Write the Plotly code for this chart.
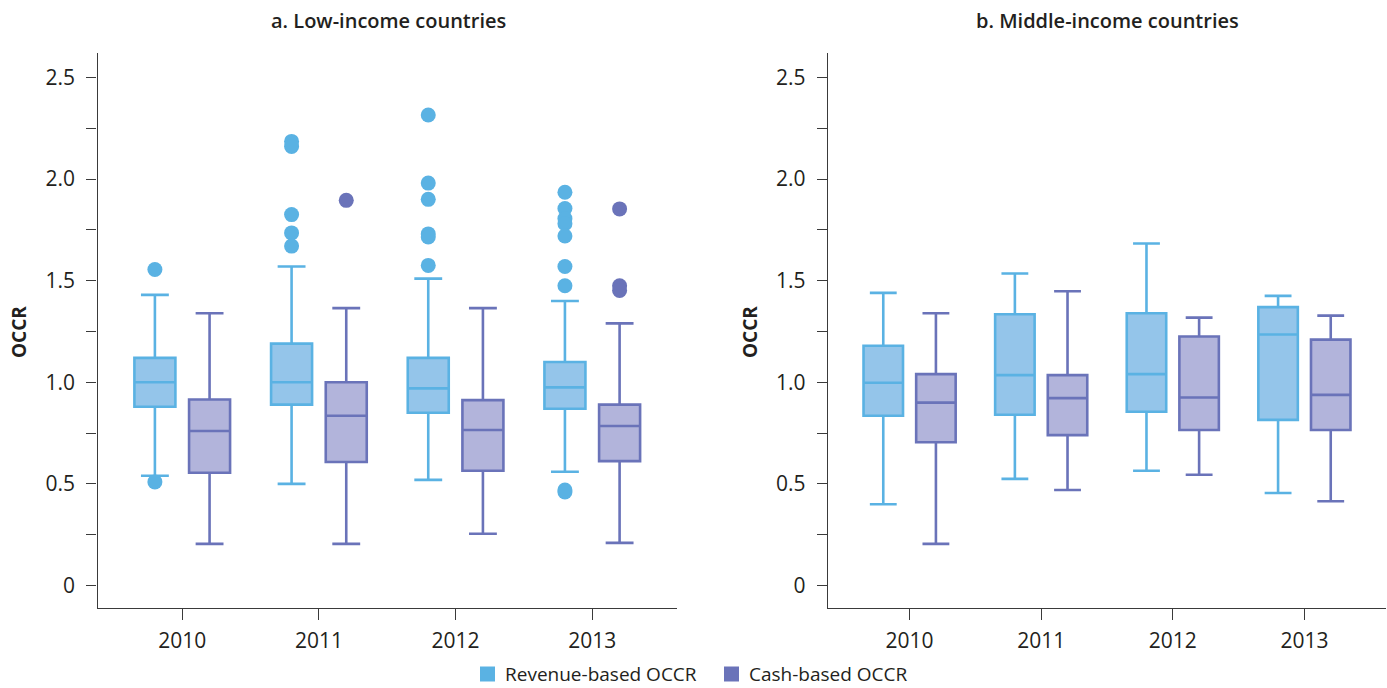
import plotly.graph_objects as go

years = ["2010", "2011", "2012", "2013"]

# a. Low-income countries: revenue-based OCCR
low_rev_lower = [0.54, 0.50, 0.52, 0.56]
low_rev_q1 = [0.88, 0.89, 0.85, 0.87]
low_rev_median = [1.00, 1.00, 0.97, 0.975]
low_rev_q3 = [1.12, 1.19, 1.12, 1.10]
low_rev_upper = [1.43, 1.57, 1.51, 1.40]
low_rev_outliers = [
    [1.555, 0.51],
    [2.185, 2.16, 1.825, 1.735, 1.67],
    [2.315, 1.98, 1.90, 1.73, 1.715, 1.575],
    [1.935, 1.855, 1.805, 1.78, 1.72, 1.57, 1.475, 0.47, 0.46],
]

# a. Low-income countries: cash-based OCCR
low_cash_lower = [0.205, 0.205, 0.255, 0.21]
low_cash_q1 = [0.555, 0.608, 0.565, 0.612]
low_cash_median = [0.76, 0.835, 0.765, 0.785]
low_cash_q3 = [0.915, 1.00, 0.912, 0.89]
low_cash_upper = [1.34, 1.365, 1.365, 1.29]
low_cash_outliers = [[], [1.895], [], [1.853, 1.475, 1.452]]

# b. Middle-income countries: revenue-based OCCR
mid_rev_lower = [0.40, 0.525, 0.565, 0.455]
mid_rev_q1 = [0.835, 0.84, 0.855, 0.815]
mid_rev_median = [0.998, 1.035, 1.04, 1.235]
mid_rev_q3 = [1.18, 1.335, 1.34, 1.37]
mid_rev_upper = [1.44, 1.535, 1.683, 1.425]

# b. Middle-income countries: cash-based OCCR
mid_cash_lower = [0.205, 0.47, 0.545, 0.415]
mid_cash_q1 = [0.705, 0.74, 0.765, 0.765]
mid_cash_median = [0.90, 0.922, 0.925, 0.938]
mid_cash_q3 = [1.04, 1.035, 1.225, 1.21]
mid_cash_upper = [1.34, 1.448, 1.318, 1.328]

series_names = ["Revenue-based OCCR", "Cash-based OCCR"]

y_tick_vals = [0, 0.5, 1.0, 1.5, 2.0, 2.5]
y_tick_text = ["0", "0.5", "1.0", "1.5", "2.0", "2.5"]
y_minor_vals = [0.25, 0.75, 1.25, 1.75, 2.25]

REV_LINE, REV_FILL = "#5AB2E3", "#94C5EA"
CASH_LINE, CASH_FILL = "#6A73B9", "#B2B4DB"
AXIS = "#3a3a3a"
TEXT = "#231F20"
FONT = "Open Sans"

W, H = 1387, 688
OFFSET = 0.2
BOX_W = 0.30

fig = go.Figure()


def add_series(xref, yref, lower, q1, med, q3, upper, outliers, side, line, fill):
    xs = [i + side * OFFSET for i in range(len(years))]
    fig.add_trace(go.Box(
        x=xs, q1=q1, median=med, q3=q3, lowerfence=lower, upperfence=upper,
        width=BOX_W, whiskerwidth=0.68, boxpoints=False,
        line=dict(color=line, width=2.6), fillcolor=fill,
        xaxis=xref, yaxis=yref, showlegend=False, hoverinfo="skip",
    ))
    ox, oy = [], []
    for x, vals in zip(xs, outliers):
        for v in vals:
            ox.append(x)
            oy.append(v)
    if ox:
        fig.add_trace(go.Scatter(
            x=ox, y=oy, mode="markers",
            marker=dict(color=line, size=15, line=dict(width=0)),
            xaxis=xref, yaxis=yref, showlegend=False, hoverinfo="skip",
        ))


add_series("x", "y", low_rev_lower, low_rev_q1, low_rev_median, low_rev_q3,
           low_rev_upper, low_rev_outliers, -1, REV_LINE, REV_FILL)
add_series("x", "y", low_cash_lower, low_cash_q1, low_cash_median, low_cash_q3,
           low_cash_upper, low_cash_outliers, 1, CASH_LINE, CASH_FILL)
add_series("x2", "y2", mid_rev_lower, mid_rev_q1, mid_rev_median, mid_rev_q3,
           mid_rev_upper, [[], [], [], []], -1, REV_LINE, REV_FILL)
add_series("x2", "y2", mid_cash_lower, mid_cash_q1, mid_cash_median, mid_cash_q3,
           mid_cash_upper, [[], [], [], []], 1, CASH_LINE, CASH_FILL)

y_dom = [(H - 607.5) / H, (H - 53) / H]

xaxis_common = dict(
    range=[-0.62, 3.62], tickvals=[0, 1, 2, 3], ticktext=years,
    ticks="outside", ticklen=11, tickwidth=1.3, tickcolor=AXIS,
    ticklabelstandoff=3,
    showline=True, linecolor=AXIS, linewidth=1.4,
    showgrid=False, zeroline=False, fixedrange=True,
    tickfont=dict(family=FONT, size=21, color=TEXT),
)
yaxis_common = dict(
    range=[-0.108, 2.62], tickvals=y_tick_vals, ticktext=y_tick_text,
    ticks="outside", ticklen=10, tickwidth=1.3, tickcolor=AXIS,
    ticklabelstandoff=7,
    minor=dict(tickvals=y_minor_vals, ticks="outside", ticklen=10,
               tickwidth=1.3, tickcolor=AXIS, showgrid=False),
    showline=True, linecolor=AXIS, linewidth=1.4,
    showgrid=False, zeroline=False, fixedrange=True, domain=y_dom,
    tickfont=dict(family=FONT, size=21, color=TEXT),
)

fig.update_layout(
    width=W, height=H,
    margin=dict(l=0, r=0, t=0, b=0),
    paper_bgcolor="white", plot_bgcolor="white",
    xaxis=dict(domain=[97.5 / W, 677 / W], anchor="y", **xaxis_common),
    yaxis=dict(anchor="x", **yaxis_common),
    xaxis2=dict(domain=[828 / W, 1386 / W], anchor="y2", **xaxis_common),
    yaxis2=dict(anchor="x2", **yaxis_common),
    showlegend=False,
    font=dict(family=FONT, color=TEXT),
)

# legend row at the bottom: colour key squares followed by series names
legend_y = (H - 674) / H
key_half = 7.5 / H
for name, col, left in zip(series_names, [REV_LINE, CASH_LINE], [480, 724]):
    fig.add_shape(
        type="rect", xref="paper", yref="paper",
        x0=left / W, x1=(left + 15) / W,
        y0=legend_y - key_half, y1=legend_y + key_half,
        fillcolor=col, line=dict(width=0),
    )
    fig.add_annotation(
        text=name, xref="paper", yref="paper", x=(left + 23) / W, y=legend_y,
        showarrow=False, xanchor="left", yanchor="middle",
        font=dict(family=FONT, size=19, color=TEXT),
    )

annotations = [
    dict(text="a. Low-income countries", x=388 / W, y=1 - 21 / H),
    dict(text="b. Middle-income countries", x=1107 / W, y=1 - 21 / H),
]
for a in annotations:
    fig.add_annotation(
        xref="paper", yref="paper", showarrow=False,
        xanchor="center", yanchor="middle",
        font=dict(family=FONT, size=20, color=TEXT, weight=600), **a,
    )
for xpos in [19 / W, 750 / W]:
    fig.add_annotation(
        text="OCCR", xref="paper", yref="paper", x=xpos, y=(H - 332) / H,
        showarrow=False, textangle=-90, xanchor="center", yanchor="middle",
        font=dict(family=FONT, size=19, color=TEXT, weight=700),
    )

fig.write_html("out.html")
